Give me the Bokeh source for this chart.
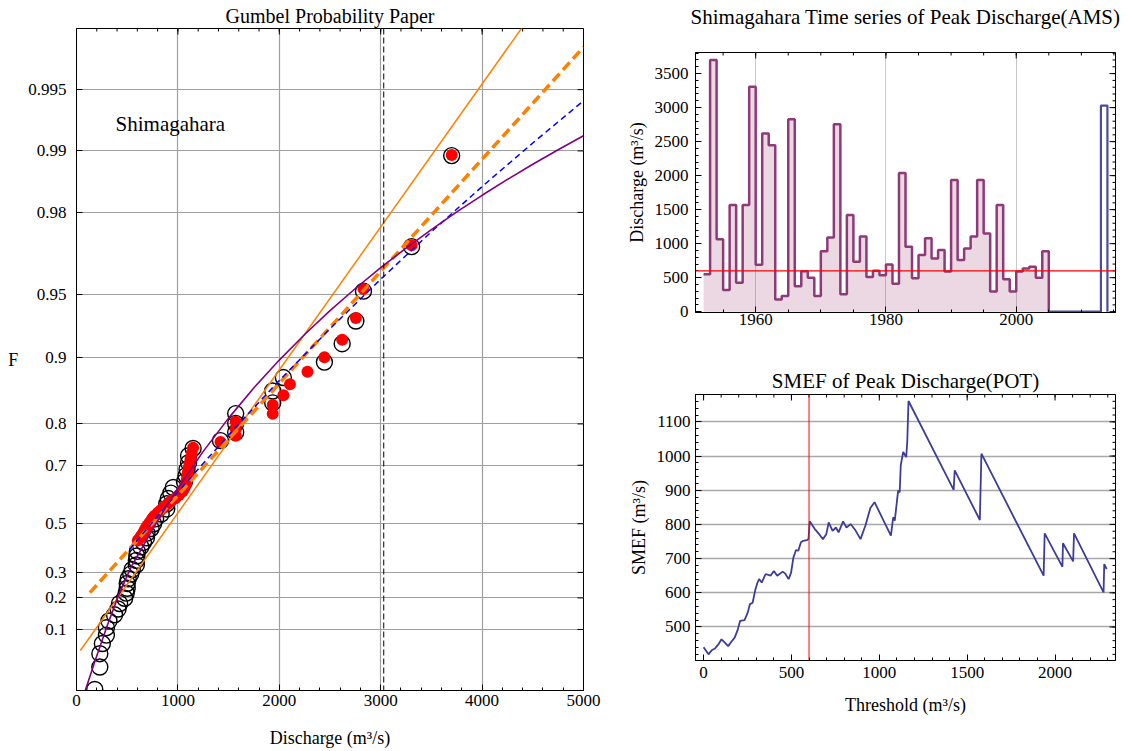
import numpy as np
from bokeh.plotting import figure
from bokeh.layouts import row, column
from bokeh.models import (Range1d, FixedTicker, CustomJSTickFormatter, Label, Span,
                          LinearAxis)
from bokeh.embed import file_html
from bokeh.resources import INLINE

FONT = "Liberation Serif"

# ---------------- data ----------------
# annual maximum series (AMS), Shimagahara, m3/s
years = list(range(1952, 2005))
ams = [550, 3700, 1065, 320, 1570, 425, 1570, 3305, 690, 2620, 2445, 180, 230, 2830,
       375, 595, 500, 230, 890, 1090, 2755, 255, 1420, 735, 1105, 510, 600, 535, 695,
       410, 2040, 955, 490, 835, 1080, 780, 905, 590, 1935, 760, 930, 1105, 1935, 1150,
       295, 1570, 475, 295, 590, 635, 660, 500, 890]
# later record (2005-2013)
late_years = [2005, 2006, 2007, 2008, 2009, 2010, 2011, 2012, 2013]
late_vals = [0, 0, 0, 0, 0, 0, 0, 0, 3030]
peak_2013 = 3030
threshold = 600

# peaks over threshold (POT) values, estimated from the chart
pot = [605, 620, 635, 650, 662, 672, 686, 700, 718, 735, 752, 775, 800, 830, 860,
       895, 930, 975, 1010, 1045, 1065, 1080, 1087, 1091, 1098, 1105, 1114, 1125,
       1136, 1150, 1420, 1570, 1570, 1570, 1935, 1935, 2040, 2105, 2278, 2445, 2620,
       2755, 2830, 3305, 3700]

# fitted distribution lines on Gumbel paper (x, F)
orange_thin_x = [38, 4450]
orange_thin_F = [0.0537, 0.99774]
orange_dash_x = [132, 5000]
orange_dash_F = [0.2196, 0.99691]
blue_x = [524, 1000, 1500, 2000, 2500, 3000, 3500, 4000, 4500, 5000]
blue_F = [0.3955, 0.6164, 0.7766, 0.8726, 0.92708, 0.95777, 0.97514, 0.98505, 0.99086, 0.99433]
purple_x = [80, 180, 300, 420, 541, 670, 800, 900, 1000, 1250, 1500, 1750, 2000, 2250,
            2500, 2750, 3000, 3250, 3500, 3750, 4000, 4250, 4500, 4750, 5000]
purple_F = [0.00899, 0.03614, 0.10798, 0.21495, 0.32384, 0.41920, 0.51152, 0.57447,
            0.62907, 0.73726, 0.81147, 0.86236, 0.89758, 0.92237, 0.94019, 0.95319,
            0.96285, 0.97016, 0.97575, 0.98010, 0.98350, 0.98620, 0.98837, 0.99013, 0.99157]

F_ticks = [0.1, 0.2, 0.3, 0.5, 0.7, 0.8, 0.9, 0.95, 0.98, 0.99, 0.995]
x_ticks_gumbel = [0, 1000, 2000, 3000, 4000, 5000]

# sample mean excess function (threshold, SMEF)
smef_u = [0, 28, 46, 65, 84, 102, 121, 140, 158, 177, 195, 208, 233, 251, 264, 279, 294,
          307, 316, 331, 353, 381, 400, 419, 450, 465, 484, 498, 511, 526, 539, 554, 567,
          589, 597, 604, 632, 660, 679, 698, 712, 734, 753, 768, 794, 813, 837, 865, 893,
          921, 949, 973, 1066, 1079, 1088, 1107, 1116, 1122, 1136, 1153, 1159, 1166, 1423,
          1429, 1572, 1581, 1935, 1941, 2042, 2045, 2103, 2108, 2276, 2280, 2294]
smef_v = [441, 420, 432, 437, 449, 464, 454, 444, 457, 469, 493, 518, 520, 542, 567, 571, 608,
          630, 640, 630, 655, 650, 664, 650, 662, 656, 640, 659, 703, 725, 723, 748, 752,
          754, 758, 809, 787, 770, 757, 771, 806, 781, 791, 777, 809, 791, 801, 782, 757,
          797, 848, 865, 767, 821, 811, 899, 894, 973, 1012, 997, 1041, 1161, 901,
          958, 813, 1007, 650, 774, 676, 745, 692, 774, 601, 684, 669]

title1 = "Gumbel Probability Paper"
title2 = "Shimagahara Time series of Peak Discharge(AMS)"
title3 = "SMEF of Peak Discharge(POT)"


def gum(F):
    F = np.asarray(F, dtype=float)
    return -np.log(-np.log(F))


def style_axis(ax):
    ax.major_label_text_font = FONT
    ax.major_label_text_font_size = "17px"
    ax.major_label_text_color = "black"
    ax.axis_label_text_font = FONT
    ax.axis_label_text_font_size = "18px"
    ax.axis_label_text_font_style = "normal"
    ax.axis_label_text_color = "black"
    ax.axis_line_color = "black"
    ax.major_tick_line_color = "black"
    ax.minor_tick_line_color = "black"
    ax.major_tick_in = 6
    ax.major_tick_out = 0
    ax.minor_tick_in = 3
    ax.minor_tick_out = 0


def frame_ticks(p, xr, yr, xmaj, xmin, ymaj, ymin):
    """inward tick marks on the top and right frame edges"""
    top, right = yr[1], xr[1]
    for xs, ln in ((xmaj, 6), (xmin, 3)):
        xs = [v for v in xs if xr[0] <= v <= xr[1]]
        p.ray(x=xs, y=[top] * len(xs), length=ln, length_units="screen",
              angle=-np.pi / 2, line_color="black", line_width=1)
    for ys, ln in ((ymaj, 6), (ymin, 3)):
        ys = [v for v in ys if yr[0] <= v <= yr[1]]
        p.ray(x=[right] * len(ys), y=ys, length=ln, length_units="screen",
              angle=np.pi, line_color="black", line_width=1)


def axis_title(p, text, xr, size, standoff):
    """title drawn as the single label of an 'above' axis, to control its distance"""
    ax = LinearAxis(ticker=FixedTicker(ticks=[(xr[0] + xr[1]) / 2], minor_ticks=[]),
                    formatter=CustomJSTickFormatter(args=dict(t=text), code="return t;"))
    ax.major_tick_in = 0
    ax.major_tick_out = 0
    ax.minor_tick_in = 0
    ax.minor_tick_out = 0
    ax.major_tick_line_color = None
    ax.minor_tick_line_color = None
    ax.axis_line_color = None
    ax.major_label_text_font = FONT
    ax.major_label_text_font_size = size
    ax.major_label_text_color = "black"
    ax.major_label_standoff = standoff
    p.add_layout(ax, "above")


def style_title(p, size, standoff):
    p.title.text_font = FONT
    p.title.text_font_size = size
    p.title.text_font_style = "normal"
    p.title.text_color = "black"
    p.title.align = "center"
    p.title.vertical_align = "top"
    p.title.standoff = standoff


# ---------------- left: Gumbel probability paper ----------------
x1r = (0, 5000)
y1r = (float(gum(0.01)), float(gum(0.9975)))
p1 = figure(width=620, height=751, x_range=Range1d(*x1r), y_range=Range1d(*y1r),
            title=title1,
            output_backend="svg", toolbar_location=None,
            min_border_left=76, min_border_right=37, min_border_top=28, min_border_bottom=61)
style_title(p1, "20px", 0)
p1.outline_line_color = "black"
p1.outline_line_width = 1

x1_minor = list(range(0, 5001, 200))
y1_major = list(gum(F_ticks))
p1.xaxis.ticker = FixedTicker(ticks=x_ticks_gumbel, minor_ticks=x1_minor)
p1.yaxis.ticker = FixedTicker(ticks=y1_major, minor_ticks=[])
p1.yaxis.formatter = CustomJSTickFormatter(code="""
const F = Math.exp(-Math.exp(-tick));
return String(parseFloat(F.toFixed(3)));
""")
for ax in p1.xaxis + p1.yaxis:
    style_axis(ax)
p1.xaxis.axis_label = "Discharge (m³/s)"
p1.xaxis.major_label_standoff = 4
p1.xaxis.axis_label_standoff = 19
p1.yaxis.axis_label = "F"
p1.yaxis.axis_label_orientation = "horizontal"
p1.yaxis.major_label_standoff = 10
p1.yaxis.axis_label_standoff = 7
p1.xgrid.grid_line_color = "#a0a0a0"
p1.ygrid.grid_line_color = "#a0a0a0"
p1.xgrid.grid_line_width = 1.2
p1.ygrid.grid_line_width = 1.2
frame_ticks(p1, x1r, y1r, x_ticks_gumbel, x1_minor, y1_major, [])

# empirical plotting positions (Gringorten)
ams_sorted = np.sort(np.array(ams, dtype=float))
n = len(ams_sorted)
rank = np.arange(1, n + 1)
F_black = (rank - 0.44) / (n + 0.12)
pot_sorted = np.sort(np.array(pot, dtype=float))
N = len(pot_sorted)
rk = np.arange(1, N + 1)
G = (rk - 0.44) / (N + 0.12)
lam = N / len(years)
F_red = np.exp(-lam * (1 - G))

p1.scatter(ams_sorted, gum(F_black), size=16, marker="circle", fill_color=None,
           line_color="black", line_width=1.4)
p1.scatter(pot_sorted, gum(F_red), size=12, marker="circle", fill_color="#ff0000",
           line_color=None)

p1.line(orange_thin_x, gum(orange_thin_F), line_color="#ff8000", line_width=1.5)
p1.line(orange_dash_x, gum(orange_dash_F), line_color="#ff8000", line_width=3.5,
        line_dash="10 5")
p1.line(blue_x, gum(blue_F), line_color="#0000ff", line_width=1.5, line_dash="6 4")
p1.line(purple_x, gum(purple_F), line_color="#800080", line_width=1.6)
p1.add_layout(Span(location=peak_2013, dimension="height", line_color="black",
                   line_width=1, line_dash="6 3"))
p1.add_layout(Label(x=385, y=4.91, text="Shimagahara", text_font=FONT,
                    text_font_size="21px", text_baseline="middle", text_color="black"))

# ---------------- top right: time series ----------------
x2r = (1950.76, 2015.24)
y2r = (-12, 3810)
p2 = figure(width=508, height=368, x_range=Range1d(*x2r), y_range=Range1d(*y2r),
            output_backend="svg", toolbar_location=None,
            min_border_left=75, min_border_right=13, min_border_top=52, min_border_bottom=56)
p2.outline_line_color = "black"
x2_major = [1960, 1980, 2000]
x2_minor = list(range(1950, 2016, 5))
y2_major = list(range(0, 3501, 500))
y2_minor = list(range(0, 3801, 100))
p2.xaxis.ticker = FixedTicker(ticks=x2_major, minor_ticks=x2_minor)
p2.yaxis.ticker = FixedTicker(ticks=y2_major, minor_ticks=y2_minor)
for ax in p2.xaxis + p2.yaxis:
    style_axis(ax)
p2.yaxis.axis_label = "Discharge (m³/s)"
p2.yaxis.major_label_standoff = 7
p2.yaxis.axis_label_standoff = 5
p2.xaxis.major_label_standoff = 1
p2.xgrid.grid_line_color = "#c8c8c8"
p2.ygrid.grid_line_color = None
frame_ticks(p2, x2r, y2r, x2_major, x2_minor, y2_major, y2_minor)
axis_title(p2, title2, x2r, "21px", 24)

sx, sy = [], []
for yr, v in zip(years, ams):
    sx += [yr, yr + 1]
    sy += [v, v]
p2.varea(x=sx, y1=0, y2=sy, fill_color="#993d71", fill_alpha=0.2)
p2.step(years + [years[-1] + 1], ams + [0], mode="after", line_color="#8e3a78",
        line_width=2.5)
p2.step(late_years + [late_years[-1] + 1], late_vals + [0], mode="after",
        line_color="#4a4aa3", line_width=2.2)
p2.add_layout(Span(location=threshold, dimension="width", line_color="#ff0000",
                   line_width=1.2))

# ---------------- bottom right: SMEF ----------------
x3r = (-46, 2344)
y3r = (402, 1180)
p3 = figure(width=508, height=383, x_range=Range1d(*x3r), y_range=Range1d(*y3r),
            title=title3,
            output_backend="svg", toolbar_location=None,
            min_border_left=73, min_border_right=6, min_border_top=26, min_border_bottom=91)
style_title(p3, "21px", 0)
p3.outline_line_color = "black"
x3_major = list(range(0, 2001, 500))
x3_minor = list(range(0, 2344, 100))
y3_major = list(range(500, 1101, 100))
y3_minor = list(range(400, 1181, 20))
p3.xaxis.ticker = FixedTicker(ticks=x3_major, minor_ticks=x3_minor)
p3.yaxis.ticker = FixedTicker(ticks=y3_major, minor_ticks=y3_minor)
for ax in p3.xaxis + p3.yaxis:
    style_axis(ax)
p3.yaxis.axis_label = "SMEF (m³/s)"
p3.xaxis.axis_label = "Threshold (m³/s)"
p3.yaxis.major_label_standoff = 5
p3.yaxis.axis_label_standoff = 5
p3.xaxis.major_label_standoff = 6
p3.xaxis.axis_label_standoff = 14
p3.xgrid.grid_line_color = None
p3.ygrid.grid_line_color = "#a8a8a8"
p3.ygrid.grid_line_width = 1.3
frame_ticks(p3, x3r, y3r, x3_major, x3_minor, y3_major, y3_minor)
p3.line(smef_u, smef_v, line_color="#3d3d99", line_width=1.8)
p3.add_layout(Span(location=threshold, dimension="height", line_color="#ff0000",
                   line_width=1))

layout = row(p1, column(p2, p3))
open("out.html", "w").write(file_html(layout, INLINE))
